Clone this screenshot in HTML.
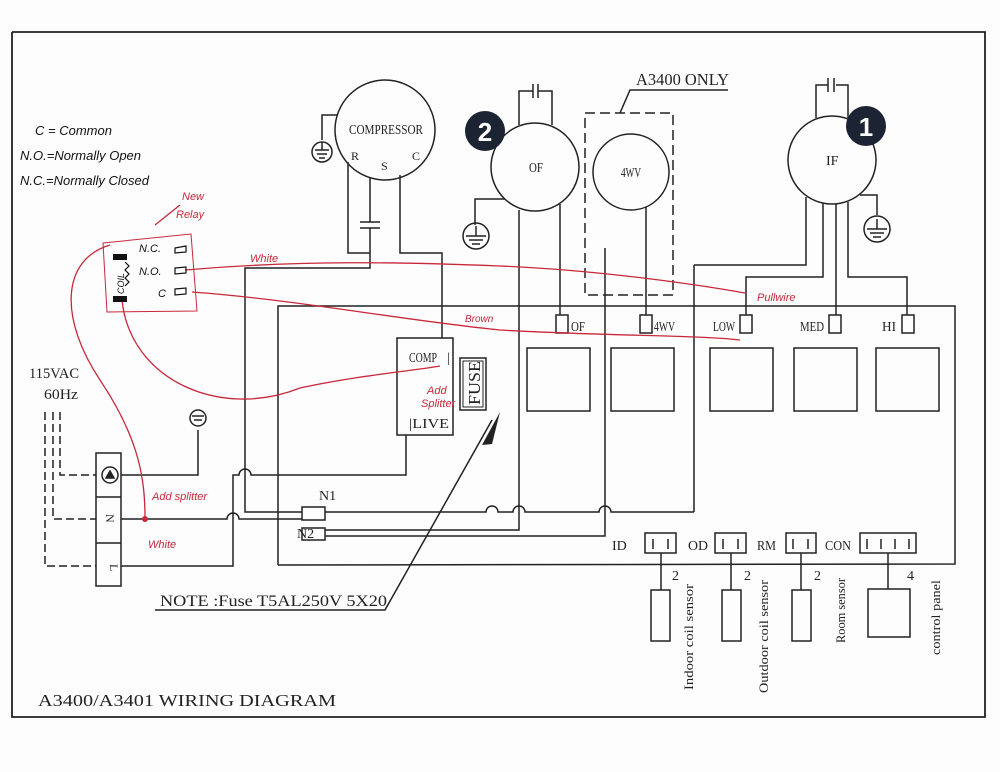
<!DOCTYPE html>
<html><head><meta charset="utf-8"><style>
html,body{margin:0;padding:0;background:#fdfdfd;}
svg{display:block;}
.t{font-family:"Liberation Serif",serif;fill:#222;}
.h{font-family:"Liberation Sans",sans-serif;font-style:italic;}
</style></head><body>
<svg width="1000" height="772" viewBox="0 0 1000 772" xmlns="http://www.w3.org/2000/svg">
<rect width="1000" height="772" fill="#fdfdfd"/>
<g fill="none" stroke="#222" stroke-width="1.5">
<polyline points="12,32 985,32 985,717 12,717 12,32" stroke-width="1.8"/>
<!-- board -->
<polyline points="278,565 278,306 955,306 955,564 278,565"/>
<!-- compressor -->
<circle cx="385" cy="130" r="50"/>
<polyline points="348,162 348,253 370,253 370,268 245,268 245,512 302,512"/>
<line x1="370" y1="178" x2="370" y2="222"/>
<line x1="360" y1="222" x2="380" y2="222"/><line x1="360" y1="228" x2="380" y2="228"/>
<line x1="370" y1="228" x2="370" y2="253"/>
<polyline points="400,175 400,253 442,253 442,338"/>
<polyline points="338,115 322,115 322,140"/>
<circle cx="322" cy="152" r="10"/>
<line x1="322" y1="142" x2="322" y2="150"/><line x1="315" y1="150" x2="329" y2="150"/><line x1="317" y1="154" x2="327" y2="154"/><line x1="319" y1="158" x2="325" y2="158"/>
<!-- COMP box / fuse -->
<rect x="397" y="338" width="56" height="97"/>
<rect x="460" y="358" width="26" height="52"/>
<rect x="463" y="361" width="20" height="46" stroke-width="1"/>
<!-- terminal block -->
<rect x="96" y="453" width="25" height="133"/>
<line x1="96" y1="497" x2="121" y2="497"/><line x1="96" y1="543" x2="121" y2="543"/>
<circle cx="110" cy="475" r="8"/>
<path d="M106,478 L110,471 L114,478 Z" fill="#222"/>
<polyline points="60,412 60,475 96,475" stroke-dasharray="8,4"/>
<polyline points="53,412 53,519 96,519" stroke-dasharray="8,4"/>
<polyline points="45,412 45,566 96,566" stroke-dasharray="8,4"/>
<polyline points="121,475 198,475 198,430"/>
<circle cx="198" cy="418" r="8"/>
<line x1="192" y1="416" x2="204" y2="416"/><line x1="194" y1="420" x2="202" y2="420"/>
<!-- N line -->
<path d="M121,519 L227,519 A6,6 0 0 1 239,519 L302,519"/>
<!-- L line -->
<path d="M121,566 L233,566 L233,475 L239,475 A6,6 0 0 1 251,475 L406,475 L406,435"/>
<!-- N1 N2 -->
<rect x="302" y="507" width="23" height="13"/>
<rect x="302" y="528" width="23" height="12"/>
<path d="M325,512 L486,512 A6,6 0 0 1 498,512 L513,512 A6,6 0 0 1 525,512 L599,512 A6,6 0 0 1 611,512 L694,512"/>
<polyline points="325,530 519,530 519,210"/>
<polyline points="325,536 605,536 605,248"/>
<line x1="694" y1="265" x2="694" y2="512"/>
<!-- OF motor -->
<circle cx="535" cy="167" r="44"/>
<polyline points="519,125 519,91 533,91"/><polyline points="552,125 552,91 538,91"/>
<line x1="533" y1="84" x2="533" y2="98"/><line x1="538" y1="84" x2="538" y2="98"/>
<polyline points="560,204 560,315"/>
<polyline points="505,199 475,199 475,225"/>
<circle cx="476" cy="236" r="13"/>
<line x1="466" y1="236" x2="486" y2="236"/><line x1="469" y1="240" x2="483" y2="240"/><line x1="472" y1="244" x2="480" y2="244"/><line x1="476" y1="226" x2="476" y2="236"/>
<!-- 4WV -->
<circle cx="631" cy="172" r="38"/>
<line x1="646" y1="207" x2="646" y2="315"/>
<rect x="585" y="113" width="88" height="182" stroke-dasharray="10,5"/>
<polyline points="620,113 630,90 728,90"/>
<!-- IF -->
<circle cx="832" cy="160" r="44"/>
<polyline points="816,118 816,85 828,85"/><polyline points="848,118 848,85 836,85"/>
<line x1="828" y1="78" x2="828" y2="92"/><line x1="834" y1="78" x2="834" y2="92"/>
<polyline points="806,197 806,265 694,265"/>
<polyline points="823,203 823,277 746,277 746,315"/>
<line x1="836" y1="204" x2="836" y2="315"/>
<polyline points="848,202 848,277 907,277 907,315"/>
<polyline points="860,195 877,195 877,215"/>
<circle cx="877" cy="229" r="13"/>
<line x1="867" y1="229" x2="887" y2="229"/><line x1="870" y1="233" x2="884" y2="233"/><line x1="873" y1="237" x2="881" y2="237"/><line x1="877" y1="219" x2="877" y2="229"/>
<!-- terminals -->
<rect x="556" y="315" width="12" height="18"/>
<rect x="640" y="315" width="12" height="18"/>
<rect x="740" y="315" width="12" height="18"/>
<rect x="829" y="315" width="12" height="18"/>
<rect x="902" y="315" width="12" height="18"/>
<rect x="527" y="348" width="63" height="63"/>
<rect x="611" y="348" width="63" height="63"/>
<rect x="710" y="348" width="63" height="63"/>
<rect x="794" y="348" width="63" height="63"/>
<rect x="876" y="348" width="63" height="63"/>
<!-- sensor connectors -->
<rect x="645" y="533" width="31" height="20"/>
<rect x="715" y="533" width="31" height="20"/>
<rect x="786" y="533" width="30" height="20"/>
<rect x="860" y="533" width="56" height="20"/>
<line x1="653" y1="539" x2="653" y2="549"/><line x1="668" y1="539" x2="668" y2="549"/>
<line x1="723" y1="539" x2="723" y2="549"/><line x1="738" y1="539" x2="738" y2="549"/>
<line x1="793" y1="539" x2="793" y2="549"/><line x1="808" y1="539" x2="808" y2="549"/>
<line x1="867" y1="539" x2="867" y2="549"/><line x1="881" y1="539" x2="881" y2="549"/><line x1="895" y1="539" x2="895" y2="549"/><line x1="909" y1="539" x2="909" y2="549"/>
<line x1="661" y1="553" x2="661" y2="590"/><line x1="731" y1="553" x2="731" y2="590"/>
<line x1="801" y1="553" x2="801" y2="590"/><line x1="888" y1="553" x2="888" y2="589"/>
<rect x="651" y="590" width="19" height="51"/>
<rect x="722" y="590" width="19" height="51"/>
<rect x="792" y="590" width="19" height="51"/>
<rect x="868" y="589" width="42" height="48"/>
<polyline points="155,610 385,610 492,420"/>
</g>
<path d="M500,412 L482,445 L492,444 Z" fill="#222"/>
<circle cx="485" cy="131" r="20" fill="#1c2433"/>
<text x="485" y="141" text-anchor="middle" font-family="Liberation Sans" font-weight="bold" font-size="26" fill="#fff">2</text>
<circle cx="866" cy="126" r="20" fill="#1c2433"/>
<text x="866" y="136" text-anchor="middle" font-family="Liberation Sans" font-weight="bold" font-size="26" fill="#fff">1</text>
<g class="t" font-size="14">
<text x="349" y="134" textLength="74" lengthAdjust="spacingAndGlyphs">COMPRESSOR</text>
<text x="351" y="160" font-size="12">R</text><text x="381" y="170" font-size="12">S</text><text x="412" y="160" font-size="12">C</text>
<text x="529" y="172" textLength="14" lengthAdjust="spacingAndGlyphs">OF</text><text x="621" y="177" textLength="20" lengthAdjust="spacingAndGlyphs">4WV</text><text x="826" y="165">IF</text>
<text x="636" y="85" font-size="17" textLength="93" lengthAdjust="spacingAndGlyphs">A3400 ONLY</text>
<text x="571" y="331" textLength="14" lengthAdjust="spacingAndGlyphs">OF</text><text x="654" y="331" textLength="21" lengthAdjust="spacingAndGlyphs">4WV</text>
<text x="713" y="331" textLength="22" lengthAdjust="spacingAndGlyphs">LOW</text><text x="800" y="331" textLength="24" lengthAdjust="spacingAndGlyphs">MED</text><text x="882" y="331" textLength="14" lengthAdjust="spacingAndGlyphs">HI</text>
<text x="409" y="362" textLength="28" lengthAdjust="spacingAndGlyphs">COMP</text><text x="447" y="362">|</text>
<text x="409" y="428" textLength="40" lengthAdjust="spacingAndGlyphs">|LIVE</text>
<text transform="translate(480,405) rotate(-90)" font-size="17" textLength="44" lengthAdjust="spacingAndGlyphs">FUSE</text>
<text x="29" y="378" font-size="15" textLength="50" lengthAdjust="spacingAndGlyphs">115VAC</text><text x="44" y="399" font-size="15" textLength="34" lengthAdjust="spacingAndGlyphs">60Hz</text>
<text x="319" y="500">N1</text><text x="297" y="538">N2</text>
<text x="104" y="570" font-size="12" transform="rotate(90,110,570)">L</text>
<text x="104" y="524" font-size="12" transform="rotate(90,110,520)">N</text>
<text x="612" y="550">ID</text><text x="688" y="550" textLength="20" lengthAdjust="spacingAndGlyphs">OD</text><text x="757" y="550" textLength="19" lengthAdjust="spacingAndGlyphs">RM</text><text x="825" y="550" textLength="26" lengthAdjust="spacingAndGlyphs">CON</text>
<text x="672" y="580">2</text><text x="744" y="580">2</text><text x="814" y="580">2</text><text x="907" y="580">4</text>
<text transform="translate(693,690) rotate(-90)" font-size="13" textLength="106" lengthAdjust="spacingAndGlyphs">Indoor coil sensor</text>
<text transform="translate(768,693) rotate(-90)" font-size="13" textLength="113" lengthAdjust="spacingAndGlyphs">Outdoor coil sensor</text>
<text transform="translate(845,643) rotate(-90)" font-size="13" textLength="65" lengthAdjust="spacingAndGlyphs">Room sensor</text>
<text transform="translate(940,655) rotate(-90)" font-size="13" textLength="75" lengthAdjust="spacingAndGlyphs">control panel</text>
<text x="160" y="606" font-size="16" textLength="227" lengthAdjust="spacingAndGlyphs">NOTE :Fuse T5AL250V 5X20</text>
<text x="38" y="706" font-size="17" textLength="298" lengthAdjust="spacingAndGlyphs">A3400/A3401 WIRING DIAGRAM</text>
</g>
<g class="h" font-size="13" fill="#111">
<text x="35" y="135">C = Common</text>
<text x="20" y="160">N.O.=Normally Open</text>
<text x="20" y="185">N.C.=Normally Closed</text>
</g>
<g fill="none" stroke="#c8283a" stroke-width="1.3">
<path d="M103,243 L191,234 L197,311 L107,312 Z" stroke-width="1"/>
<path d="M180,205 L155,225"/>
<path d="M110,245 C60,260 60,320 100,380 C140,440 145,480 145,519"/>
<path d="M122,300 C130,380 220,420 300,388 C360,375 420,370 440,366"/>
<path d="M185,270 C300,260 400,262 500,266 C600,270 700,285 745,293"/>
<path d="M192,292 C300,300 400,320 500,330 C600,336 700,335 740,340"/>
</g>
<g fill="#111">
<rect x="113" y="254" width="14" height="6"/><rect x="113" y="296" width="14" height="6"/>
</g>
<g fill="none" stroke="#111" stroke-width="1.2">
<path d="M175,248 L186,246 L186,252 L175,253 Z"/><path d="M175,268 L186,267 L186,273 L175,274 Z"/><path d="M175,289 L186,288 L186,294 L175,295 Z"/>
<path d="M125,262 l4,4 l-4,4 l4,4 l-4,4 l4,4 l-4,4"/>
</g>
<circle cx="145" cy="519" r="3" fill="#c8283a"/>
<g class="h" font-size="11" fill="#c8283a">
<text x="182" y="200">New</text><text x="176" y="218">Relay</text>
<text x="250" y="262">White</text>
<text x="465" y="322" font-size="10">Brown</text>
<text x="757" y="301">Pullwire</text>
<text x="427" y="394">Add</text><text x="421" y="407">Splitter</text>
<text x="152" y="500">Add splitter</text>
<text x="148" y="548">White</text>
</g>
<g class="h" font-size="11" fill="#111">
<text x="139" y="252">N.C.</text><text x="139" y="275">N.O.</text><text x="158" y="297">C</text>
<text transform="translate(124,294) rotate(-90)" font-size="9">COIL</text>
</g>
</svg>
</body></html>
